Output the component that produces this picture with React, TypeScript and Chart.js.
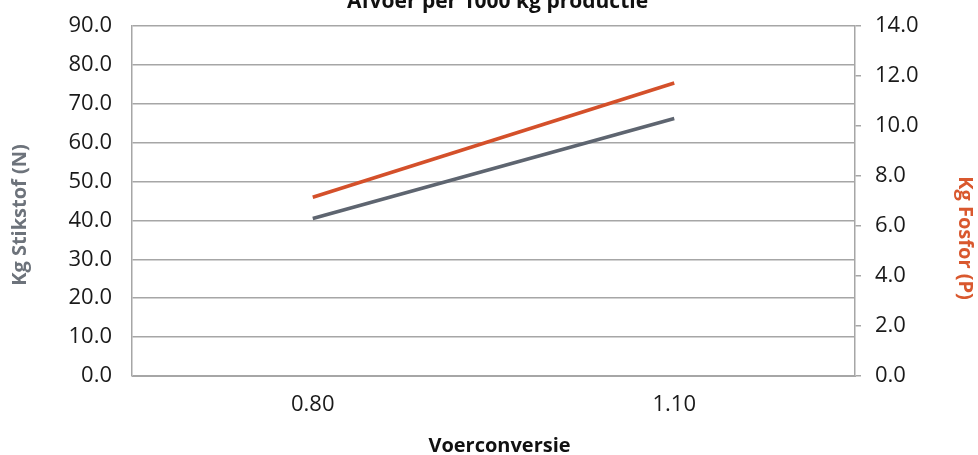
import React, { useEffect, useRef } from "react";
import { Chart, registerables } from "chart.js";

Chart.register(...registerables);

const categories = ["0.80", "1.10"];
const stikstofN = [40.5, 66.2];
const fosforP = [7.15, 11.72];

const leftTicks = { min: 0, max: 90, step: 10 };
const rightTicks = { min: 0, max: 14, step: 2 };

const titleText = "Afvoer per 1000 kg productie";
const xTitle = "Voerconversie";
const leftTitle = "Kg Stikstof (N)";
const rightTitle = "Kg Fosfor (P)";

const GREY = "#5e6570";
const ORANGE = "#d4502a";
const GRID = "#a6a6a6";
const FONT = "'Open Sans', 'DejaVu Sans', sans-serif";

const textPlugin = {
  id: "customTexts",
  afterDraw(chart: any) {
    const ctx = chart.ctx;
    const ca = chart.chartArea;
    ctx.save();
    ctx.font = `bold 21px ${FONT}`;
    ctx.fillStyle = "#111";
    ctx.textAlign = "center";
    ctx.textBaseline = "alphabetic";
    ctx.fillText(titleText, (ca.left + ca.right) / 2 + 4, 8);

    ctx.font = `bold 20px ${FONT}`;
    ctx.textBaseline = "middle";
    ctx.fillText(xTitle, (ca.left + ca.right) / 2 + 6, 446);

    ctx.save();
    ctx.translate(20, 215);
    ctx.rotate(-Math.PI / 2);
    ctx.fillStyle = "#6d737b";
    ctx.fillText(leftTitle, 0, 0);
    ctx.restore();

    ctx.save();
    ctx.translate(965, 238);
    ctx.rotate(Math.PI / 2);
    ctx.fillStyle = "#d9582e";
    ctx.fillText(rightTitle, 0, 0);
    ctx.restore();
    ctx.restore();
  },
};

export default function App() {
  const ref = useRef<HTMLCanvasElement | null>(null);
  useEffect(() => {
    if (!ref.current) return;
    const chart = new Chart(ref.current, {
      type: "line",
      data: {
        labels: categories,
        datasets: [
          {
            label: "N",
            data: stikstofN,
            borderColor: GREY,
            backgroundColor: GREY,
            borderWidth: 3.5,
            pointRadius: 0,
            yAxisID: "y",
          },
          {
            label: "P",
            data: fosforP,
            borderColor: ORANGE,
            backgroundColor: ORANGE,
            borderWidth: 3.5,
            pointRadius: 0,
            yAxisID: "y1",
          },
        ],
      },
      options: {
        responsive: false,
        animation: false,
        devicePixelRatio: 1,
        layout: { padding: { top: 26, left: 0, right: 0, bottom: 0 } },
        plugins: {
          legend: { display: false },
          title: { display: false },
          tooltip: { enabled: false },
        },
        scales: {
          x: {
            type: "category",
            offset: true,
            grid: { display: false, drawTicks: false },
            border: { display: true, color: GRID },
            ticks: { font: { family: FONT, size: 22 }, color: "#1a1a1a", padding: 16 },
            afterFit: (s: any) => {
              s.height = 79;
              s.paddingLeft = 0;
              s.paddingRight = 0;
            },
          },
          y: {
            position: "left",
            min: leftTicks.min,
            max: leftTicks.max,
            ticks: {
              stepSize: leftTicks.step,
              callback: (v: any) => Number(v).toFixed(1),
              font: { family: FONT, size: 22 },
              color: "#1a1a1a",
              padding: 20,
            },
            grid: { color: GRID, lineWidth: 1.5, drawTicks: false },
            border: { display: true, color: GRID, width: 1.5 },
            afterFit: (s: any) => {
              s.width = 132;
              s.paddingTop = 0;
              s.paddingBottom = 0;
            },
          },
          y1: {
            position: "right",
            min: rightTicks.min,
            max: rightTicks.max,
            ticks: {
              stepSize: rightTicks.step,
              callback: (v: any) => Number(v).toFixed(1),
              font: { family: FONT, size: 22 },
              color: "#1a1a1a",
              padding: 14,
            },
            grid: { drawOnChartArea: false, drawTicks: true, tickLength: 6, color: GRID, lineWidth: 1.5 },
            border: { display: true, color: GRID, width: 1.5 },
            afterFit: (s: any) => {
              s.width = 123;
              s.paddingTop = 0;
              s.paddingBottom = 0;
            },
          },
        },
      } as any,
      plugins: [textPlugin],
    });
    return () => chart.destroy();
  }, []);
  return (
    <div style={{ position: "fixed", left: 0, top: 0, width: 978, height: 455, background: "#fff" }}>
      <canvas ref={ref} width={978} height={455} style={{ display: "block" }} />
    </div>
  );
}
